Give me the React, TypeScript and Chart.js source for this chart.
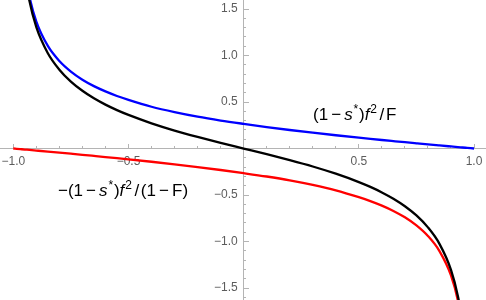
import React, { useEffect, useRef } from 'react';
import { Chart, registerables } from 'chart.js';

Chart.register(...registerables);

// ---- data (smoothed by eye) ----
const xValues = [-1, -0.985, -0.97, -0.95, -0.93, -0.9, -0.85, -0.8, -0.75, -0.7, -0.65, -0.6, -0.55, -0.5, -0.4, -0.3, -0.2, -0.1, 0, 0.1, 0.2, 0.3, 0.4, 0.5, 0.55, 0.6, 0.65, 0.7, 0.75, 0.8, 0.85, 0.9, 0.93, 0.95, 0.97, 0.985, 1];

// (1-s*) f^2 / F  (blue)
const blueValues = [null, 3.44, 2.475, 1.932, 1.636, 1.365, 1.103, 0.941, 0.827, 0.74, 0.671, 0.614, 0.565, 0.523, 0.449, 0.391, 0.342, 0.301, 0.265, 0.231, 0.199, 0.17, 0.1425, 0.1164, 0.1038, 0.0915, 0.0795, 0.0676, 0.056, 0.0445, 0.0332, 0.022, 0.0153, 0.011, 0.0066, 0.0033, 0];

// -(1-s*) f^2 / (1-F)  (red)
const redValues = [0, -0.0033, -0.0066, -0.011, -0.0153, -0.022, -0.0332, -0.0445, -0.056, -0.0676, -0.0795, -0.0915, -0.1038, -0.1164, -0.1425, -0.17, -0.199, -0.231, -0.265, -0.301, -0.342, -0.391, -0.449, -0.523, -0.565, -0.614, -0.671, -0.74, -0.827, -0.941, -1.103, -1.365, -1.636, -1.932, -2.475, -3.44, null];

// black curve
const blackValues = [null, 3.42, 2.446, 1.893, 1.588, 1.305, 1.025, 0.848, 0.72, 0.621, 0.54, 0.472, 0.413, 0.361, 0.271, 0.1934, 0.125, 0.0613, 0, -0.0613, -0.125, -0.1934, -0.271, -0.361, -0.413, -0.472, -0.54, -0.621, -0.72, -0.848, -1.025, -1.305, -1.588, -1.893, -2.446, -3.42, null];

const xLabelValues = [-1, -0.5, 0, 0.5, 1];
const xLabelTexts = ['\u22121.0', '\u22120.5', '', '0.5', '1.0'];
const yLabelValues = [-1.5, -1, -0.5, 0, 0.5, 1, 1.5];
const yLabelTexts = ['\u22121.5', '\u22121.0', '\u22120.5', '', '0.5', '1.0', '1.5'];

type Seg = { t: string; s?: 'i' | 'sup' | 'op' };
const upperLabel: Seg[] = [
  { t: '(1' }, { t: '\u2212', s: 'op' }, { t: 's', s: 'i' }, { t: '*', s: 'sup' }, { t: ')' },
  { t: 'f', s: 'i' }, { t: '2', s: 'sup' }, { t: '/', s: 'op' }, { t: 'F' },
];
const lowerLabel: Seg[] = [
  { t: '\u2212(1' }, { t: '\u2212', s: 'op' }, { t: 's', s: 'i' }, { t: '*', s: 'sup' }, { t: ')' },
  { t: 'f', s: 'i' }, { t: '2', s: 'sup' }, { t: '/', s: 'op' }, { t: '(1' }, { t: '\u2212', s: 'op' }, { t: 'F)' },
];

const FONT = '"Liberation Sans", Arial, sans-serif';

const pts = (ys: (number | null)[]) =>
  xValues.map((x, i) => ({ x, y: ys[i] })).filter((p) => p.y !== null) as { x: number; y: number }[];

const lookup = (vals: number[], texts: string[]) => (value: any) => {
  const v = Number(value);
  const i = vals.findIndex((t) => Math.abs(t - v) < 1e-6);
  return i >= 0 ? texts[i] : '';
};

const drawSegs = (ctx: CanvasRenderingContext2D, segs: Seg[], x0: number, y0: number, size: number) => {
  let x = x0;
  ctx.fillStyle = '#000';
  ctx.textBaseline = 'alphabetic';
  ctx.textAlign = 'left';
  segs.forEach((sg) => {
    let font = `${size}px ${FONT}`;
    let y = y0;
    let pre = 0;
    if (sg.s === 'i') font = `italic ${size}px ${FONT}`;
    if (sg.s === 'sup') { font = `${Math.round(size * 0.7)}px ${FONT}`; y = y0 - size * 0.42; pre = size * 0.05; }
    if (sg.s === 'op') pre = sg.t === '/' ? size * 0.1 : size * 0.18;
    ctx.font = font;
    x += pre;
    ctx.fillText(sg.t, x, y);
    x += ctx.measureText(sg.t).width + pre;
  });
};

const textPlugin = {
  id: 'curveLabels',
  afterDraw(chart: any) {
    const ctx = chart.ctx as CanvasRenderingContext2D;
    ctx.save();
    drawSegs(ctx, upperLabel, 313, 120, 17);
    drawSegs(ctx, lowerLabel, 58, 196, 17);
    ctx.restore();
  },
};

const zeroPad = (s: any) => { s.paddingLeft = 0; s.paddingRight = 0; s.paddingTop = 0; s.paddingBottom = 0; };

const AXIS = '#b4b4b4';
const TEXT = '#5c5c5c';
const X_MIN = -1.0577;
const X_MAX = 1.052;
const Y_MIN = -1.629;
const Y_MAX = 1.597;

export default function App() {
  const ref = useRef<HTMLCanvasElement | null>(null);
  useEffect(() => {
    document.body.style.margin = '0';
    const canvas = ref.current!;
    const common = { type: 'linear', afterFit: zeroPad } as any;
    const line = { showLine: true, pointRadius: 0, borderWidth: 2.3, cubicInterpolationMode: 'monotone', xAxisID: 'x', yAxisID: 'y' };
    const chart = new Chart(canvas, {
      type: 'scatter',
      data: {
        datasets: [
          { ...line, label: 'black', data: pts(blackValues), borderColor: '#000000' },
          { ...line, label: 'red', data: pts(redValues), borderColor: '#ff0000' },
          { ...line, label: 'blue', data: pts(blueValues), borderColor: '#0000ff' },
        ],
      } as any,
      options: {
        animation: false,
        responsive: false,
        devicePixelRatio: 1,
        layout: { padding: 0 },
        plugins: { legend: { display: false }, tooltip: { enabled: false } },
        scales: {
          x: {
            ...common, min: X_MIN, max: X_MAX, position: { y: 0 },
            grid: { drawOnChartArea: false, drawTicks: true, tickLength: -3, color: AXIS },
            border: { color: AXIS, width: 1 },
            ticks: { stepSize: 0.1, display: false, includeBounds: false },
          },
          xMajor: {
            ...common, axis: 'x', min: X_MIN, max: X_MAX, position: { y: 0 },
            grid: { drawOnChartArea: false, drawTicks: true, tickLength: -5, color: AXIS },
            border: { display: false },
            ticks: { stepSize: 0.5, includeBounds: false, padding: 11, color: TEXT, font: { family: FONT, size: 12 }, maxRotation: 0, autoSkip: false, callback: lookup(xLabelValues, xLabelTexts) },
          },
          y: {
            ...common, min: Y_MIN, max: Y_MAX, position: { x: 0 },
            grid: { drawOnChartArea: false, drawTicks: true, tickLength: -3, color: AXIS },
            border: { color: AXIS, width: 1 },
            ticks: { stepSize: 0.1, display: false, includeBounds: false },
          },
          yMajor: {
            ...common, axis: 'y', min: Y_MIN, max: Y_MAX, position: { x: 0 },
            grid: { drawOnChartArea: false, drawTicks: true, tickLength: -5, color: AXIS },
            border: { display: false },
            ticks: { stepSize: 0.5, display: false, includeBounds: false },
          },
          yLabels: {
            ...common, axis: 'y', min: Y_MIN, max: Y_MAX, position: { x: -0.026 },
            grid: { display: false },
            border: { display: false },
            ticks: { stepSize: 0.5, includeBounds: false, padding: 0, color: TEXT, font: { family: FONT, size: 12 }, autoSkip: false, callback: lookup(yLabelValues, yLabelTexts) },
          },
        },
      } as any,
      plugins: [textPlugin],
    });
    return () => chart.destroy();
  }, []);
  return (
    <div style={{ width: 486, height: 300 }}>
      <canvas ref={ref} width={486} height={300} style={{ display: 'block' }} />
    </div>
  );
}
